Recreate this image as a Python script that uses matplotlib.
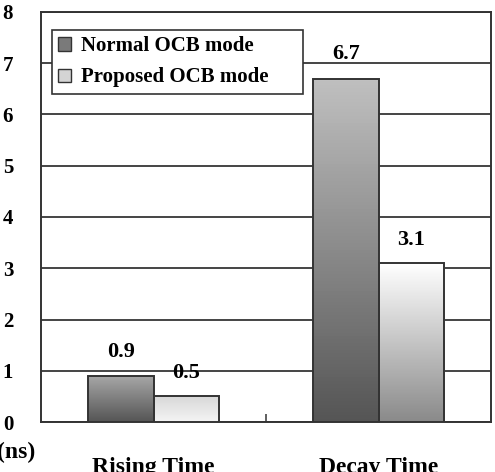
import numpy as np
import matplotlib
matplotlib.use('Agg')
import matplotlib.pyplot as plt
from matplotlib.patches import Patch

categories = ['Rising Time', 'Decay Time']
series_names = ['Normal OCB mode', 'Proposed OCB mode']
normal_values = [0.9, 6.7]
proposed_values = [0.5, 3.1]
y_ticks = [0, 1, 2, 3, 4, 5, 6, 7, 8]
y_unit = '(ns)'

# gradient colours per bar (top, bottom)
normal_grad = [('#a8a8a8', '#555555'), ('#c0c0c0', '#555555')]
proposed_grad = [('#d8d8d8', '#f4f4f4'), ('#ffffff', '#8a8a8a')]

plt.rcParams['font.family'] = ['Liberation Serif', 'DejaVu Serif']
plt.rcParams['font.weight'] = 'bold'

fig = plt.figure(figsize=(4.95, 4.72), dpi=100)
ax = fig.add_axes([41 / 495, 1 - 422 / 472, 450 / 495, 410 / 472])

x = np.arange(len(categories))
w = 0.289


def gradient_bar(ax, xc, h, top, bottom):
    bar = ax.bar(xc, h, w, facecolor='none', edgecolor='#333333', linewidth=1.4, zorder=4)[0]
    c1 = np.array(matplotlib.colors.to_rgb(top))
    c2 = np.array(matplotlib.colors.to_rgb(bottom))
    t = np.linspace(0, 1, 100)[:, None]
    img = (c1 * (1 - t) + c2 * t)[:, None, :]
    im = ax.imshow(img, extent=[xc - w / 2, xc + w / 2, 0, h], aspect='auto', zorder=3)
    im.set_clip_path(bar)
    return bar


for i in range(len(categories)):
    gradient_bar(ax, x[i] - w / 2, normal_values[i], *normal_grad[i])
    gradient_bar(ax, x[i] + w / 2, proposed_values[i], *proposed_grad[i])
    ax.annotate(f'{normal_values[i]}', (x[i] - w / 2, normal_values[i]), xytext=(0, 17.5),
                textcoords='offset points', ha='center', va='center', fontsize=16,
                fontweight='bold', zorder=6)
    ax.annotate(f'{proposed_values[i]}', (x[i] + w / 2, proposed_values[i]), xytext=(0, 17),
                textcoords='offset points', ha='center', va='center', fontsize=16,
                fontweight='bold', zorder=6)

ax.set_xlim(-0.5, 1.5)
ax.set_ylim(0, 8)
ax.set_yticks(y_ticks)
ax.set_yticklabels([str(v) for v in y_ticks], fontsize=15, fontweight='bold')
ax.tick_params(axis='y', length=0, pad=20)
ax.set_xticks([0.5])
ax.set_xticklabels([''])
ax.tick_params(axis='x', direction='in', length=6, width=1.2, color='#444444')
for c, name in zip(x, categories):
    ax.annotate(name, (c, 0), xytext=(0, -25), textcoords='offset points',
                ha='center', va='top', fontsize=17, fontweight='bold')
ax.grid(axis='y', color='#444444', linewidth=1.4, zorder=1)
ax.set_axisbelow(True)
for s in ax.spines.values():
    s.set_color('#333333')
    s.set_linewidth(1.4)

fig.text(35 / 495, 1 - 452 / 472, y_unit, ha='right', va='center', fontsize=17, fontweight='bold')

handles = [Patch(facecolor='#7a7a7a', edgecolor='#333333'), Patch(facecolor='#d4d4d4', edgecolor='#333333')]
leg = ax.legend(handles, series_names, loc='upper left',
                bbox_to_anchor=(11 / 450, 0.5, 251 / 450, 392 / 410 - 0.5), mode='expand',
                prop={'size': 15, 'weight': 'bold'}, fancybox=False, framealpha=1,
                edgecolor='#333333', handlelength=0.6, handleheight=0.6, handletextpad=0.5,
                borderpad=0.3, labelspacing=0.54, borderaxespad=0)
leg.get_frame().set_linewidth(1.2)
leg.set_zorder(7)

fig.savefig('out.png', dpi=100)
